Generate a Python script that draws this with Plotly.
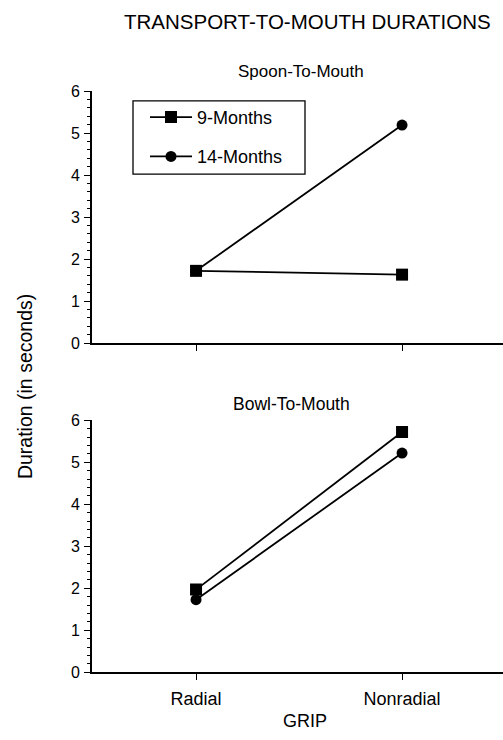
import plotly.graph_objects as go

grips = ["Radial", "Nonradial"]
spoon_9 = [1.72, 1.63]
spoon_14 = [1.72, 5.19]
bowl_9 = [1.97, 5.72]
bowl_14 = [1.73, 5.22]
y_ticks = [0, 1, 2, 3, 4, 5, 6]

W, H = 503, 740
FONT = "Liberation Sans, Arial, sans-serif"

def py(px):
    return 1 - px / H

def pxx(px):
    return px / W

fig = go.Figure()

line = dict(color="black", width=1.8)
sq = dict(symbol="square", size=12, color="black")
ci = dict(symbol="circle", size=11, color="black")

fig.add_trace(go.Scatter(x=grips, y=spoon_14, mode="lines+markers", name="14-Months",
                         line=line, marker=ci, xaxis="x", yaxis="y", legendrank=2,
                         legendgroup="b"))
fig.add_trace(go.Scatter(x=grips, y=spoon_9, mode="lines+markers", name="9-Months",
                         line=line, marker=sq, xaxis="x", yaxis="y", legendrank=1,
                         legendgroup="a"))
fig.add_trace(go.Scatter(x=grips, y=bowl_14, mode="lines+markers", name="14-Months",
                         line=line, marker=ci, xaxis="x2", yaxis="y2", showlegend=False))
fig.add_trace(go.Scatter(x=grips, y=bowl_9, mode="lines+markers", name="9-Months",
                         line=line, marker=sq, xaxis="x2", yaxis="y2", showlegend=False))

xl = 92
xdom = [xl / W, 1.0]

def xaxis(show_labels):
    return dict(domain=xdom, type="category", categoryarray=grips, categoryorder="array",
                range=[-0.505, 1.49], showline=True, linecolor="black", linewidth=1.6,
                ticks="outside", ticklen=6, tickcolor="black", tickwidth=1.2,
                showgrid=False, zeroline=False, showticklabels=show_labels,
                ticklabelstandoff=3,
                tickfont=dict(family=FONT, size=18, color="black"))

def yaxis(dom, anchor):
    return dict(domain=dom, anchor=anchor, range=[0, 6], tickvals=y_ticks,
                showline=True, linecolor="black", linewidth=1.6,
                ticks="outside", ticklen=6, tickcolor="black", tickwidth=1.2,
                minor=dict(dtick=0.2, ticks="outside", ticklen=3, tickcolor="black", tickwidth=1),
                showgrid=False, zeroline=False, ticklabelstandoff=1,
                tickfont=dict(family=FONT, size=16, color="black"))

fig.update_layout(
    width=W, height=H,
    margin=dict(l=0, r=0, t=0, b=0),
    paper_bgcolor="white", plot_bgcolor="white",
    xaxis=dict(**xaxis(False), anchor="y"),
    yaxis=yaxis([py(343), py(85)], "x"),
    xaxis2=dict(**xaxis(True), anchor="y2"),
    yaxis2=yaxis([py(680), py(422)], "x2"),
    legend=dict(x=pxx(145), y=py(93), xanchor="left", yanchor="top",
                borderwidth=0, bgcolor="rgba(0,0,0,0)",
                font=dict(family=FONT, size=18, color="black"),
                tracegroupgap=13, itemwidth=42),
    showlegend=True,
    font=dict(family=FONT, color="black"),
)

# legend frame
fig.add_shape(type="rect", xref="paper", yref="paper",
              x0=pxx(133), x1=pxx(305), y0=py(170), y1=py(95),
              line=dict(color="black", width=1.3), fillcolor="white", layer="below")

ann = [
    dict(text="TRANSPORT-TO-MOUTH DURATIONS", x=307 / W, y=py(14), size=20.5),
    dict(text="Spoon-To-Mouth", x=301 / W, y=py(65), size=17),
    dict(text="Bowl-To-Mouth", x=291 / W, y=py(405), size=17.5),
    dict(text="GRIP", x=305 / W, y=py(730), size=18),
]
for a in ann:
    fig.add_annotation(text=a["text"], x=a["x"], y=a["y"], xref="paper", yref="paper",
                       xanchor="center", yanchor="middle", showarrow=False,
                       font=dict(family=FONT, size=a["size"], color="black"))
fig.add_annotation(text="Duration (in seconds)", x=25 / W, y=py(388), xref="paper", yref="paper",
                   xanchor="center", yanchor="middle", showarrow=False, textangle=-90,
                   font=dict(family=FONT, size=19.5, color="black"))

fig.write_html("out.html", config={"displayModeBar": False},
               post_script="document.body.style.margin='0';")
